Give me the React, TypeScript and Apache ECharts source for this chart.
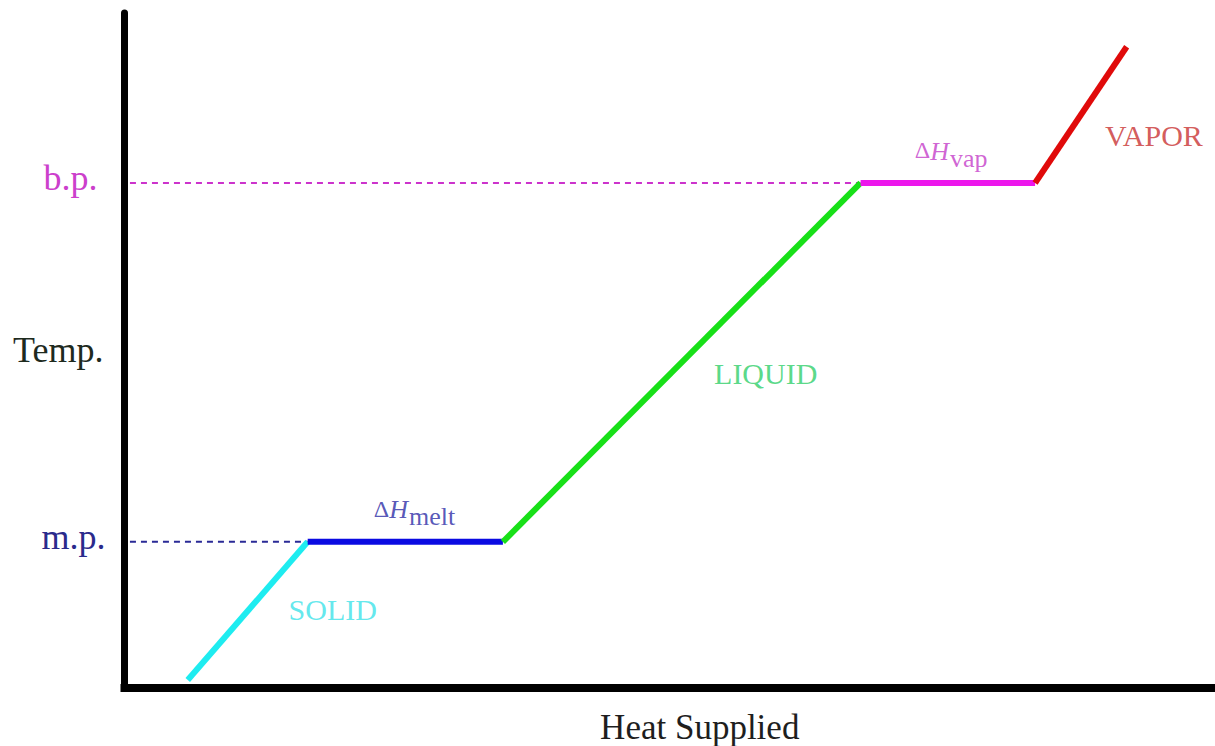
import React, { useEffect, useRef } from "react";
import * as echarts from "echarts";

// Heating curve: break points (heat supplied, temperature) in arbitrary units
const heatPoints = [5.8, 16.8, 34.7, 67.5, 83.5, 91.9];
const tempPoints = [1.1, 21.6, 21.6, 74.8, 74.8, 95.0];
const meltingPoint = 21.6;
const boilingPoint = 74.8;
const segmentNames = ["SOLID", "ΔH melt", "LIQUID", "ΔH vap", "VAPOR"];
const segmentColors = ["#1eecf0", "#0a0ae2", "#18e018", "#ec16ec", "#e00a0a"];

// annotation labels (text, anchor in data units, colour)
const annotationTexts = [
  "SOLID",
  "{d|Δ}{h|H}{s|melt}",
  "LIQUID",
  "{d|Δ}{h|H}{s|vap}",
  "VAPOR",
];
const annotationX = [19.1, 26.6, 58.8, 75.8, 94.4];
const annotationY = [11.6, 25.8, 46.6, 79.0, 81.8];
const annotationColors = ["#3ce2e8", "#2d2da6", "#2fcf6a", "#c43cc8", "#c83232"];

const yTickValues = [meltingPoint, boilingPoint];
const yTickLabels = ["m.p.", "b.p."];

const FONT = "'Liberation Serif', 'Times New Roman', serif";

export default function App() {
  const ref = useRef<HTMLDivElement>(null);

  useEffect(() => {
    if (!ref.current) return;
    const chart = echarts.init(ref.current, undefined, { renderer: "svg" });

    const segmentSeries = segmentNames.map((name, i) => ({
      name,
      type: "line",
      data: [
        [heatPoints[i], tempPoints[i]],
        [heatPoints[i + 1], tempPoints[i + 1]],
      ],
      symbol: "none",
      lineStyle: { color: segmentColors[i], width: 6, cap: "butt" },
      z: 5,
    }));

    const dashStart = 0.5;
    const dashedSeries = [
      {
        name: "m.p. guide",
        type: "line",
        data: [
          [dashStart, meltingPoint],
          [heatPoints[1], meltingPoint],
        ],
        symbol: "none",
        lineStyle: { color: "#2a2a96", width: 2, type: [6, 5] },
        z: 3,
      },
      {
        name: "b.p. guide",
        type: "line",
        data: [
          [dashStart, boilingPoint],
          [heatPoints[3], boilingPoint],
        ],
        symbol: "none",
        lineStyle: { color: "#cc33cc", width: 2, type: [6, 5] },
        z: 3,
      },
    ];

    const richFor = (color: string) => ({
      d: { fontSize: 24, fontFamily: FONT, color, verticalAlign: "top" },
      h: { fontSize: 26, fontFamily: FONT, fontStyle: "italic", color, verticalAlign: "top" },
      s: { fontSize: 26, fontFamily: FONT, color, verticalAlign: "top", padding: [7, 0, 0, 1] },
    });

    const annotationSeries = {
      name: "labels",
      type: "scatter",
      symbolSize: 0,
      itemStyle: { color: "transparent" },
      silent: true,
      z: 6,
      data: annotationTexts.map((t, i) => ({
        value: [annotationX[i], annotationY[i]],
        label: {
          show: true,
          position: "inside",
          formatter: t,
          color: annotationColors[i],
          fontSize: 30,
          fontFamily: FONT,
          rich: richFor(annotationColors[i]),
        },
      })),
    };

    chart.setOption({
      animation: false,
      backgroundColor: "#ffffff",
      grid: {
        left: 124.5,
        right: 0,
        top: 13,
        bottom: 58.5,
        containLabel: false,
        outerBoundsMode: "none",
      },
      xAxis: {
        type: "value",
        min: 0,
        max: 100,
        axisLine: { show: true, onZero: false, lineStyle: { color: "#000", width: 8, cap: "square" } },
        axisTick: { show: false },
        axisLabel: { show: false },
        splitLine: { show: false },
        name: "Heat Supplied",
        nameLocation: "middle",
        nameGap: 40,
        nameMoveOverlap: false,
        nameTextStyle: {
          fontSize: 35,
          fontFamily: FONT,
          color: "#1e1e1e",
          verticalAlign: "middle",
          padding: [0, 0, 0, 60],
        },
      },
      yAxis: {
        type: "value",
        min: 0,
        max: 100,
        axisLine: { show: true, onZero: false, lineStyle: { color: "#000", width: 7 } },
        axisTick: { show: false },
        splitLine: { show: false },
        axisLabel: {
          show: true,
          customValues: yTickValues,
          margin: 19,
          formatter: (v: number) => {
            const idx = yTickValues.indexOf(v);
            return idx === 0 ? `{mp|${yTickLabels[0]}}` : `{bp|${yTickLabels[1]}}`;
          },
          rich: {
            mp: { fontSize: 36, fontFamily: FONT, color: "#2a2a8c", padding: [0, 0, 10, 0] },
            bp: { fontSize: 36, fontFamily: FONT, color: "#cc3fcc", padding: [0, 8, 10, 0] },
          },
        },
        name: "Temp.",
        nameLocation: "middle",
        nameRotate: 0,
        nameGap: 21,
        nameMoveOverlap: false,
        nameTextStyle: {
          fontSize: 36,
          fontFamily: FONT,
          color: "#1e2a1e",
          align: "right",
          verticalAlign: "middle",
        },
      },
      series: [...dashedSeries, ...segmentSeries, annotationSeries],
    });

    return () => chart.dispose();
  }, []);

  return (
    <div
      ref={ref}
      style={{ position: "absolute", left: 0, top: 0, width: 1215, height: 746 }}
    />
  );
}
